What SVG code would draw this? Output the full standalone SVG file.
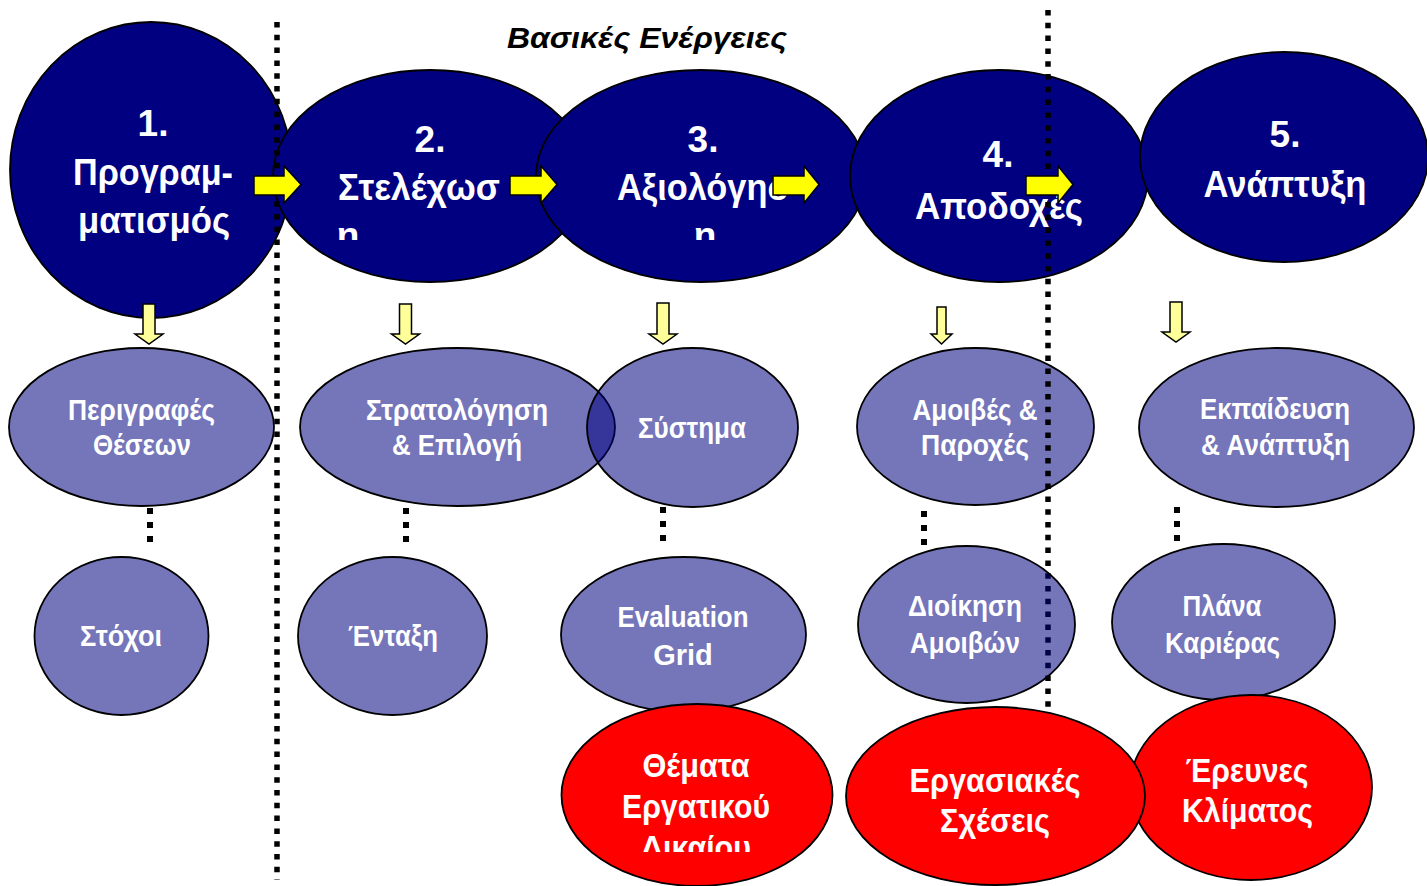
<svg xmlns="http://www.w3.org/2000/svg" width="1427" height="886" viewBox="0 0 1427 886">
  <defs>
    <style>
      .top { fill: #000080; stroke: #000; stroke-width: 1.8; }
      .mid { fill: #000080; fill-opacity: 0.54; stroke: #000; stroke-width: 1.8; }
      .red { fill: #ff0000; stroke: #000; stroke-width: 1.8; }
      .lbl { fill: #fff; font-family: "Liberation Sans Narrow", "Arial Narrow", "Liberation Sans", Arial, sans-serif; font-weight: bold; text-anchor: middle; }
      .t36 { font-size: 37px; }
      .t29 { font-size: 30px; }
      .t28 { font-size: 29px; }
      .t32 { font-size: 33px; }
      .title { fill: #000; font-family: "Liberation Sans", Arial, sans-serif; font-weight: bold; font-style: italic; font-size: 30px; text-anchor: middle; }
      .harrow { fill: #ffff00; stroke: #000; stroke-width: 1.5; stroke-linejoin: miter; }
      .varrow { fill: #ffff99; stroke: #000; stroke-width: 1.5; stroke-linejoin: miter; }
      .divider { stroke: #000; stroke-width: 5.5; stroke-dasharray: 5.5 7.3; fill: none; }
      .link { stroke: #000; stroke-width: 6; stroke-dasharray: 6 8; fill: none; }
    </style>
    <clipPath id="clip-top"><rect x="0" y="0" width="1427" height="240"/></clipPath>
    <clipPath id="clip-law"><rect x="0" y="0" width="1427" height="852"/></clipPath>
  </defs>

  <rect width="1427" height="886" fill="#fff"/>

  <text class="title" x="647" y="48" textLength="280" lengthAdjust="spacingAndGlyphs">Βασικές Ενέργειες</text>

  <!-- main process stages -->
  <g id="stage1">
    <ellipse class="top" cx="151" cy="170" rx="141" ry="148"/>
    <text class="lbl t36" x="153" y="136">1.</text>
    <text class="lbl t36" x="153" y="185" textLength="160" lengthAdjust="spacingAndGlyphs">Προγραμ-</text>
    <text class="lbl t36" x="154" y="233" textLength="152" lengthAdjust="spacingAndGlyphs">ματισμός</text>
  </g>
  <g id="stage2">
    <ellipse class="top" cx="430" cy="176" rx="157" ry="106"/>
    <text class="lbl t36" x="430" y="152">2.</text>
    <text class="lbl t36" x="419" y="200" textLength="162" lengthAdjust="spacingAndGlyphs">Στελέχωσ</text>
    <text class="lbl t36" x="348" y="248" clip-path="url(#clip-top)">η</text>
  </g>
  <g id="stage3">
    <ellipse class="top" cx="701" cy="176" rx="165" ry="106"/>
    <text class="lbl t36" x="703" y="152">3.</text>
    <text class="lbl t36" x="704" y="200" textLength="174" lengthAdjust="spacingAndGlyphs">Αξιολόγησ</text>
    <text class="lbl t36" x="705" y="248" clip-path="url(#clip-top)">η</text>
  </g>
  <g id="stage4">
    <ellipse class="top" cx="999" cy="176" rx="149" ry="106"/>
    <text class="lbl t36" x="998" y="167">4.</text>
    <text class="lbl t36" x="999" y="219" textLength="168" lengthAdjust="spacingAndGlyphs">Αποδοχές</text>
  </g>
  <g id="stage5">
    <ellipse class="top" cx="1284" cy="157" rx="144" ry="105"/>
    <text class="lbl t36" x="1285" y="147">5.</text>
    <text class="lbl t36" x="1285" y="197" textLength="163" lengthAdjust="spacingAndGlyphs">Ανάπτυξη</text>
  </g>

  <!-- activities -->
  <g id="job-descriptions">
    <ellipse class="mid" cx="141.5" cy="427" rx="132.5" ry="79"/>
    <text class="lbl t29" x="141.5" y="420" textLength="147" lengthAdjust="spacingAndGlyphs">Περιγραφές</text>
    <text class="lbl t29" x="142" y="455" textLength="98" lengthAdjust="spacingAndGlyphs">Θέσεων</text>
  </g>
  <g id="recruitment">
    <ellipse class="mid" cx="457.5" cy="427" rx="157.5" ry="79"/>
    <text class="lbl t29" x="457" y="420" textLength="182" lengthAdjust="spacingAndGlyphs">Στρατολόγηση</text>
    <text class="lbl t29" x="457" y="455" textLength="130" lengthAdjust="spacingAndGlyphs">&amp; Επιλογή</text>
  </g>
  <g id="system">
    <ellipse class="mid" cx="692.5" cy="427.5" rx="105.5" ry="79.5"/>
    <text class="lbl t29" x="692" y="438" textLength="108" lengthAdjust="spacingAndGlyphs">Σύστημα</text>
  </g>
  <g id="pay-benefits">
    <ellipse class="mid" cx="975.5" cy="426.5" rx="118.5" ry="78.5"/>
    <text class="lbl t29" x="975" y="420" textLength="125" lengthAdjust="spacingAndGlyphs">Αμοιβές &amp;</text>
    <text class="lbl t29" x="975" y="455" textLength="108" lengthAdjust="spacingAndGlyphs">Παροχές</text>
  </g>
  <g id="training">
    <ellipse class="mid" cx="1276.5" cy="427.5" rx="137.5" ry="79.5"/>
    <text class="lbl t29" x="1275" y="419" textLength="150" lengthAdjust="spacingAndGlyphs">Εκπαίδευση</text>
    <text class="lbl t29" x="1275.5" y="455" textLength="149" lengthAdjust="spacingAndGlyphs">&amp; Ανάπτυξη</text>
  </g>

  <!-- section dividers -->
  <g id="dividers">
    <line class="divider" x1="277" y1="22" x2="277" y2="880"/>
    <line class="divider" x1="1048" y1="10" x2="1048" y2="860"/>
  </g>

  <g id="goals">
    <ellipse class="mid" cx="121.5" cy="636" rx="87" ry="79"/>
    <text class="lbl t28" x="121" y="646" textLength="82" lengthAdjust="spacingAndGlyphs">Στόχοι</text>
  </g>
  <g id="onboarding">
    <ellipse class="mid" cx="392.5" cy="636" rx="94.5" ry="79"/>
    <text class="lbl t28" x="393" y="646" textLength="90" lengthAdjust="spacingAndGlyphs">Ένταξη</text>
  </g>
  <g id="evaluation-grid">
    <ellipse class="mid" cx="683.5" cy="634.5" rx="122.5" ry="77.5"/>
    <text class="lbl t28" x="683" y="627" textLength="131" lengthAdjust="spacingAndGlyphs">Evaluation</text>
    <text class="lbl t28" x="683" y="665">Grid</text>
  </g>
  <g id="pay-admin">
    <ellipse class="mid" cx="966.5" cy="624.5" rx="108.5" ry="78.5"/>
    <text class="lbl t28" x="965" y="616" textLength="114" lengthAdjust="spacingAndGlyphs">Διοίκηση</text>
    <text class="lbl t28" x="965" y="653" textLength="110" lengthAdjust="spacingAndGlyphs">Αμοιβών</text>
  </g>
  <g id="career-plans">
    <ellipse class="mid" cx="1223.5" cy="622" rx="111.5" ry="78"/>
    <text class="lbl t28" x="1222" y="616" textLength="79" lengthAdjust="spacingAndGlyphs">Πλάνα</text>
    <text class="lbl t28" x="1222.5" y="653" textLength="115" lengthAdjust="spacingAndGlyphs">Καριέρας</text>
  </g>

  <!-- flow arrows and links -->
  <g id="connectors">
    <polygon class="harrow" points="254,176 284,176 284,166 301,184.5 284,203 284,195 254,195"/>
    <polygon class="harrow" points="510,176 541,176 541,166 557,184.5 541,203 541,195 510,195"/>
    <polygon class="harrow" points="773,176 804,176 804,166 819,184.5 804,203 804,195 773,195"/>
    <polygon class="harrow" points="1026,176 1058,176 1058,166 1073,184.5 1058,203 1058,195 1026,195"/>

    <polygon class="varrow" points="143,304 155,304 155,334 163,334 149,344 135,334 143,334"/>
    <polygon class="varrow" points="399.5,304 411.5,304 411.5,334 419.5,334 405.5,344 391.5,334 399.5,334"/>
    <polygon class="varrow" points="657,303 669,303 669,334 677,334 663,344 649,334 657,334"/>
    <polygon class="varrow" points="937,307 946,307 946,334 952,334 941.5,344 931,334 937,334"/>
    <polygon class="varrow" points="1170,302 1182,302 1182,332 1190,332 1176,342 1162,332 1170,332"/>

    <line class="link" x1="150" y1="508" x2="150" y2="544"/>
    <line class="link" x1="406" y1="508" x2="406" y2="544"/>
    <line class="link" x1="663" y1="507" x2="663" y2="543"/>
    <line class="link" x1="924" y1="511" x2="924" y2="547"/>
    <line class="link" x1="1177" y1="507" x2="1177" y2="543"/>
  </g>

  <!-- related topics -->
  <g id="labour-law">
    <ellipse class="red" cx="697" cy="795" rx="135.5" ry="91"/>
    <text class="lbl t32" x="696" y="777" textLength="107" lengthAdjust="spacingAndGlyphs">Θέματα</text>
    <text class="lbl t32" x="696" y="818" textLength="148" lengthAdjust="spacingAndGlyphs">Εργατικού</text>
    <text class="lbl t32" x="696" y="859" textLength="110" lengthAdjust="spacingAndGlyphs" clip-path="url(#clip-law)">Δικαίου</text>
  </g>
  <g id="climate-surveys">
    <ellipse class="red" cx="1251" cy="787.5" rx="121" ry="92.5"/>
    <text class="lbl t32" x="1247" y="782" textLength="123" lengthAdjust="spacingAndGlyphs">Έρευνες</text>
    <text class="lbl t32" x="1247.5" y="822" textLength="131" lengthAdjust="spacingAndGlyphs">Κλίματος</text>
  </g>
  <g id="labour-relations">
    <ellipse class="red" cx="995.5" cy="796" rx="149.5" ry="89"/>
    <text class="lbl t32" x="995" y="792" textLength="171" lengthAdjust="spacingAndGlyphs">Εργασιακές</text>
    <text class="lbl t32" x="995" y="832" textLength="110" lengthAdjust="spacingAndGlyphs">Σχέσεις</text>
  </g>
</svg>
